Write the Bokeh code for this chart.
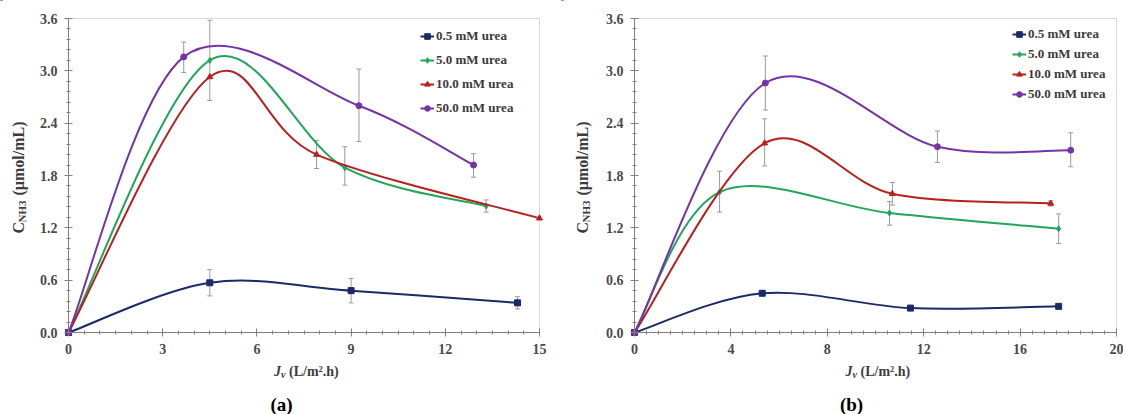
import math
import numpy as np
from bokeh.plotting import figure
from bokeh.models import (ColumnDataSource, Whisker, TeeHead, Legend, LegendItem,
                          FixedTicker, PrintfTickFormatter, Label, Range1d, BoxAnnotation)
from bokeh.layouts import row
from bokeh.embed import file_html
from bokeh.resources import INLINE

NAN = float("nan")

series_names = ["0.5 mM urea", "5.0 mM urea", "10.0 mM urea", "50.0 mM urea"]
series_colors = ["#1b2a66", "#1fa65a", "#b8201f", "#7434a6"]
series_markers = ["square", "diamond", "triangle", "circle"]

# ---------------- panel (a) ----------------
a_x = [
    [0, 4.5, 9.0, 14.3],
    [0, 4.5, 8.8, 13.3],
    [0, 4.5, 7.9, 15.0],
    [0, 3.67, 9.25, 12.9],
]
a_y = [
    [0, 0.57, 0.48, 0.34],
    [0, 3.12, 1.89, 1.45],
    [0, 2.93, 2.04, 1.31],
    [0, 3.16, 2.60, 1.92],
]
a_lo = [
    [NAN, 0.42, 0.34, 0.27],
    [NAN, 2.66, 1.69, 1.38],
    [NAN, NAN, 1.88, NAN],
    [NAN, 2.98, 2.19, 1.78],
]
a_hi = [
    [NAN, 0.72, 0.62, 0.41],
    [NAN, 3.58, 2.13, 1.52],
    [NAN, NAN, 2.20, NAN],
    [NAN, 3.33, 3.02, 2.05],
]
a_xticks = [0, 3, 6, 9, 12, 15]

# ---------------- panel (b) ----------------
b_x = [
    [0, 5.3, 11.45, 17.6],
    [0, 3.53, 10.58, 17.6],
    [0, 5.4, 10.7, 17.27],
    [0, 5.43, 12.57, 18.1],
]
b_y = [
    [0, 0.45, 0.28, 0.30],
    [0, 1.61, 1.37, 1.19],
    [0, 2.17, 1.59, 1.48],
    [0, 2.86, 2.13, 2.09],
]
b_lo = [
    [NAN, NAN, NAN, NAN],
    [NAN, 1.38, 1.23, 1.02],
    [NAN, 1.91, 1.46, 1.45],
    [NAN, 2.55, 1.95, 1.90],
]
b_hi = [
    [NAN, NAN, NAN, NAN],
    [NAN, 1.85, 1.50, 1.36],
    [NAN, 2.45, 1.72, 1.51],
    [NAN, 3.17, 2.31, 2.29],
]
b_xticks = [0, 4, 8, 12, 16, 20]

y_ticks = [0.0, 0.6, 1.2, 1.8, 2.4, 3.0, 3.6]

FONT = "Liberation Serif"
TICK_COLOR = "#4a4a4a"
AXIS_COLOR = "#808080"
ERR_COLOR = "#9a9a9a"
LABEL_COLOR = "#3c3c3c"


def smooth_segments(xs, ys):
    """Catmull-Rom style control points (like a spreadsheet 'smoothed line')."""
    n = len(xs)
    P = [np.array([xs[i], ys[i]], dtype=float) for i in range(n)]
    out = dict(x0=[], y0=[], x1=[], y1=[], cx0=[], cy0=[], cx1=[], cy1=[])
    for i in range(n - 1):
        p0 = P[i - 1] if i > 0 else P[i]
        p1 = P[i]
        p2 = P[i + 1]
        p3 = P[i + 2] if i + 2 < n else P[i + 1]
        c1 = p1 + (p2 - p0) / 6.0
        c2 = p2 - (p3 - p1) / 6.0
        out["x0"].append(p1[0]); out["y0"].append(p1[1])
        out["x1"].append(p2[0]); out["y1"].append(p2[1])
        out["cx0"].append(c1[0]); out["cy0"].append(c1[1])
        out["cx1"].append(c2[0]); out["cy1"].append(c2[1])
    return out


def make_panel(xs_all, ys_all, lo_all, hi_all, xticks, minor_step, letter,
               width, data_left, data_right, legend_loc, legend_spacing,
               ylabel_px, letter_px):
    height = 414
    data_top, data_bottom = 18, 332
    xmax = xticks[-1]
    ymax = y_ticks[-1]
    fw = data_right - data_left
    fh = data_bottom - data_top
    sx = xmax / fw
    sy = ymax / fh

    def dx(px):  # px from figure left -> data x
        return (px - data_left) * sx

    def dy(py):  # px from figure top -> data y
        return (data_bottom - py) * sy

    p = figure(width=width, height=height, output_backend="svg", toolbar_location=None,
               x_range=Range1d(dx(0), dx(width)), y_range=Range1d(dy(height), dy(0)),
               min_border=0, min_border_left=0, min_border_right=0,
               min_border_top=0, min_border_bottom=0)
    p.grid.visible = False
    p.outline_line_color = None
    p.background_fill_color = "white"
    p.border_fill_color = "white"

    # frame box around the data area (top/right edges)
    p.add_layout(BoxAnnotation(left=0, right=xmax, bottom=0, top=ymax,
                               fill_alpha=0, line_color=AXIS_COLOR, line_width=1,
                               level="underlay"))

    minor_x = list(np.arange(0, xmax + 1e-9, minor_step))
    p.xaxis.ticker = FixedTicker(ticks=xticks, minor_ticks=minor_x)
    p.yaxis.ticker = FixedTicker(ticks=y_ticks,
                                 minor_ticks=list(np.arange(0, ymax + 1e-9, 0.12)))
    p.yaxis.formatter = PrintfTickFormatter(format="%.1f")
    p.xaxis.formatter = PrintfTickFormatter(format="%d")
    p.xaxis.fixed_location = 0
    p.yaxis.fixed_location = 0
    p.xaxis.bounds = (0, xmax)
    p.yaxis.bounds = (0, ymax)
    for ax in (p.xaxis, p.yaxis):
        ax.axis_line_color = AXIS_COLOR
        ax.major_tick_line_color = AXIS_COLOR
        ax.minor_tick_line_color = AXIS_COLOR
        ax.major_tick_in = 4
        ax.major_tick_out = 4
        ax.minor_tick_in = 2
        ax.minor_tick_out = 2
        ax.major_label_text_font = FONT
        ax.major_label_text_font_style = "bold"
        ax.major_label_text_font_size = "14px"
        ax.major_label_text_color = TICK_COLOR
        ax.major_label_standoff = 7
        ax.axis_label = None

    items = []
    for k in range(4):
        color = series_colors[k]
        seg = ColumnDataSource(smooth_segments(xs_all[k], ys_all[k]))
        br = p.bezier(x0="x0", y0="y0", x1="x1", y1="y1", cx0="cx0", cy0="cy0",
                      cx1="cx1", cy1="cy1", source=seg, line_color=color, line_width=2)
        esrc = ColumnDataSource(dict(x=xs_all[k], lo=lo_all[k], hi=hi_all[k]))
        w = Whisker(base="x", lower="lo", upper="hi", source=esrc, dimension="height",
                    line_color=ERR_COLOR, line_width=1,
                    upper_head=TeeHead(size=5, line_color=ERR_COLOR, line_width=1),
                    lower_head=TeeHead(size=5, line_color=ERR_COLOR, line_width=1))
        p.add_layout(w)
        psrc = ColumnDataSource(dict(x=xs_all[k], y=ys_all[k]))
        sr = p.scatter("x", "y", source=psrc, marker=series_markers[k], size=6,
                       fill_color=color, line_color=color)
        items.append(LegendItem(label=series_names[k], renderers=[br, sr]))

    leg = Legend(items=items, location=legend_loc, padding=0, margin=0,
                 border_line_color=None, background_fill_alpha=0,
                 label_text_font=FONT, label_text_font_style="bold",
                 label_text_font_size="13px", label_text_color="#3a3a3a",
                 glyph_width=14, glyph_height=20, label_height=20,
                 label_standoff=2, spacing=legend_spacing)
    p.add_layout(leg)

    # y axis label: C_NH3 (µmol/mL), rotated
    ylx, yly = ylabel_px
    lbl_kw = dict(text_font=FONT, text_color=LABEL_COLOR, angle=math.pi / 2,
                  text_align="left", text_baseline="middle")
    p.add_layout(Label(x=dx(ylx), y=dy(yly), text="C", text_font_size="16px",
                       text_font_style="bold", **lbl_kw))
    p.add_layout(Label(x=dx(ylx + 3), y=dy(yly - 11), text="NH3", text_font_size="11px",
                       text_font_style="bold", **lbl_kw))
    p.add_layout(Label(x=dx(ylx), y=dy(yly - 38), text="(µmol/mL)", text_font_size="16px",
                       text_font_style="bold", **lbl_kw))

    # x axis label: J_v (L/m².h)
    xc = (data_left + data_right) / 2.0
    xl = xc - 30
    xkw = dict(text_font=FONT, text_color=LABEL_COLOR, text_align="left",
               text_baseline="middle")
    p.add_layout(Label(x=dx(xl), y=dy(371), text="J", text_font_size="14px",
                       text_font_style="bold italic", **xkw))
    p.add_layout(Label(x=dx(xl + 7), y=dy(374), text="v", text_font_size="10px",
                       text_font_style="bold italic", **xkw))
    p.add_layout(Label(x=dx(xl + 15), y=dy(371), text="(L/m².h)", text_font_size="14px",
                       text_font_style="bold", **xkw))

    # panel letter
    p.add_layout(Label(x=dx(letter_px), y=dy(404), text=letter, text_font=FONT,
                       text_font_size="19px", text_font_style="bold", text_color="black",
                       text_align="center", text_baseline="middle"))
    return p


pa = make_panel(a_x, a_y, a_lo, a_hi, a_xticks, 0.5, "(a)",
                width=561, data_left=68, data_right=539,
                legend_loc=(420, 296), legend_spacing=4,
                ylabel_px=(18, 233), letter_px=281)
pb = make_panel(b_x, b_y, b_lo, b_hi, b_xticks, 0.5, "(b)",
                width=562, data_left=73, data_right=555,
                legend_loc=(451, 310), legend_spacing=0,
                ylabel_px=(21, 233), letter_px=290)

layout = row(pa, pb)
open("out.html", "w").write(file_html(layout, INLINE))
